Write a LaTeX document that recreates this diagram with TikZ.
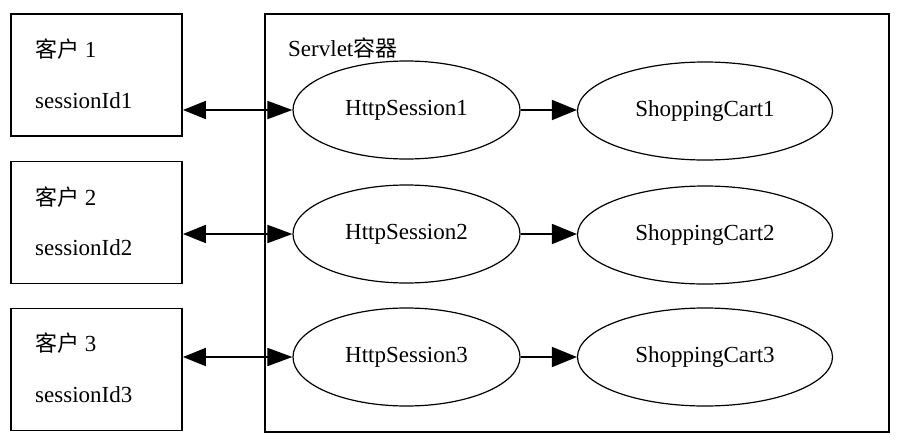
\documentclass[tikz,border=0pt]{standalone}
\usepackage{fontspec}
\setmainfont{Liberation Serif}
\newfontfamily\cjk{Noto Sans CJK SC}
\usetikzlibrary{shapes.geometric,arrows.meta}
\begin{document}
\begin{tikzpicture}[x=1pt,y=-1pt,
  box/.style={draw,line width=1.8pt,minimum width=171pt,minimum height=122pt,inner sep=0pt},
  cont/.style={draw,line width=1.8pt,minimum width=624pt,minimum height=418pt,inner sep=0pt},
  sess/.style={draw,ellipse,line width=1.2pt,minimum width=227pt,minimum height=98pt,inner sep=0pt},
  cart/.style={draw,ellipse,line width=1.2pt,minimum width=255pt,minimum height=98pt,inner sep=0pt},
  lbl/.style={anchor=base west,inner sep=0pt},
  conn/.style={line width=1.8pt},
  every node/.style={font=\fontsize{23}{27}\selectfont}]
\useasboundingbox (0,0) rectangle (906,440);
% container
\node[cont] (c) at (577,223) {};
\node[lbl] (ct) at (288,56) {Servlet{\cjk\fontsize{22}{26}\selectfont 容器}};
% clients
\node[box] (b1) at (96.5,75) {};
\node[box] (b2) at (96.5,222.5) {};
\node[box] (b3) at (96.5,369.5) {};
\node[lbl] (k1) at (35,57) {{\cjk\fontsize{22}{26}\selectfont 客户} 1};
\node[lbl] (s1) at (35,108) {sessionId1};
\node[lbl] (k2) at (35,205) {{\cjk\fontsize{22}{26}\selectfont 客户} 2};
\node[lbl] (s2) at (35,255) {sessionId2};
\node[lbl] (k3) at (35,351) {{\cjk\fontsize{22}{26}\selectfont 客户} 3};
\node[lbl] (s3) at (35,402) {sessionId3};
% sessions
\node[sess] (h1) at (406.5,110) {HttpSession1};
\node[sess] (h2) at (406.5,234) {HttpSession2};
\node[sess] (h3) at (406.5,357) {HttpSession3};
% carts
\node[cart] (p1) at (705,111) {ShoppingCart1};
\node[cart] (p2) at (705,235) {ShoppingCart2};
\node[cart] (p3) at (705,357) {ShoppingCart3};
% connectors
\foreach \i in {1,2,3}{
  \draw[conn,{Triangle[length=23pt,width=18pt]}-{Triangle[length=25pt,width=18pt]}] (h\i.west -| b\i.east) -- (h\i.west);
  \draw[conn,-{Triangle[length=25pt,width=20pt]}] (h\i.east) -- (p\i.west |- h\i.east);
}
\end{tikzpicture}
\end{document}
